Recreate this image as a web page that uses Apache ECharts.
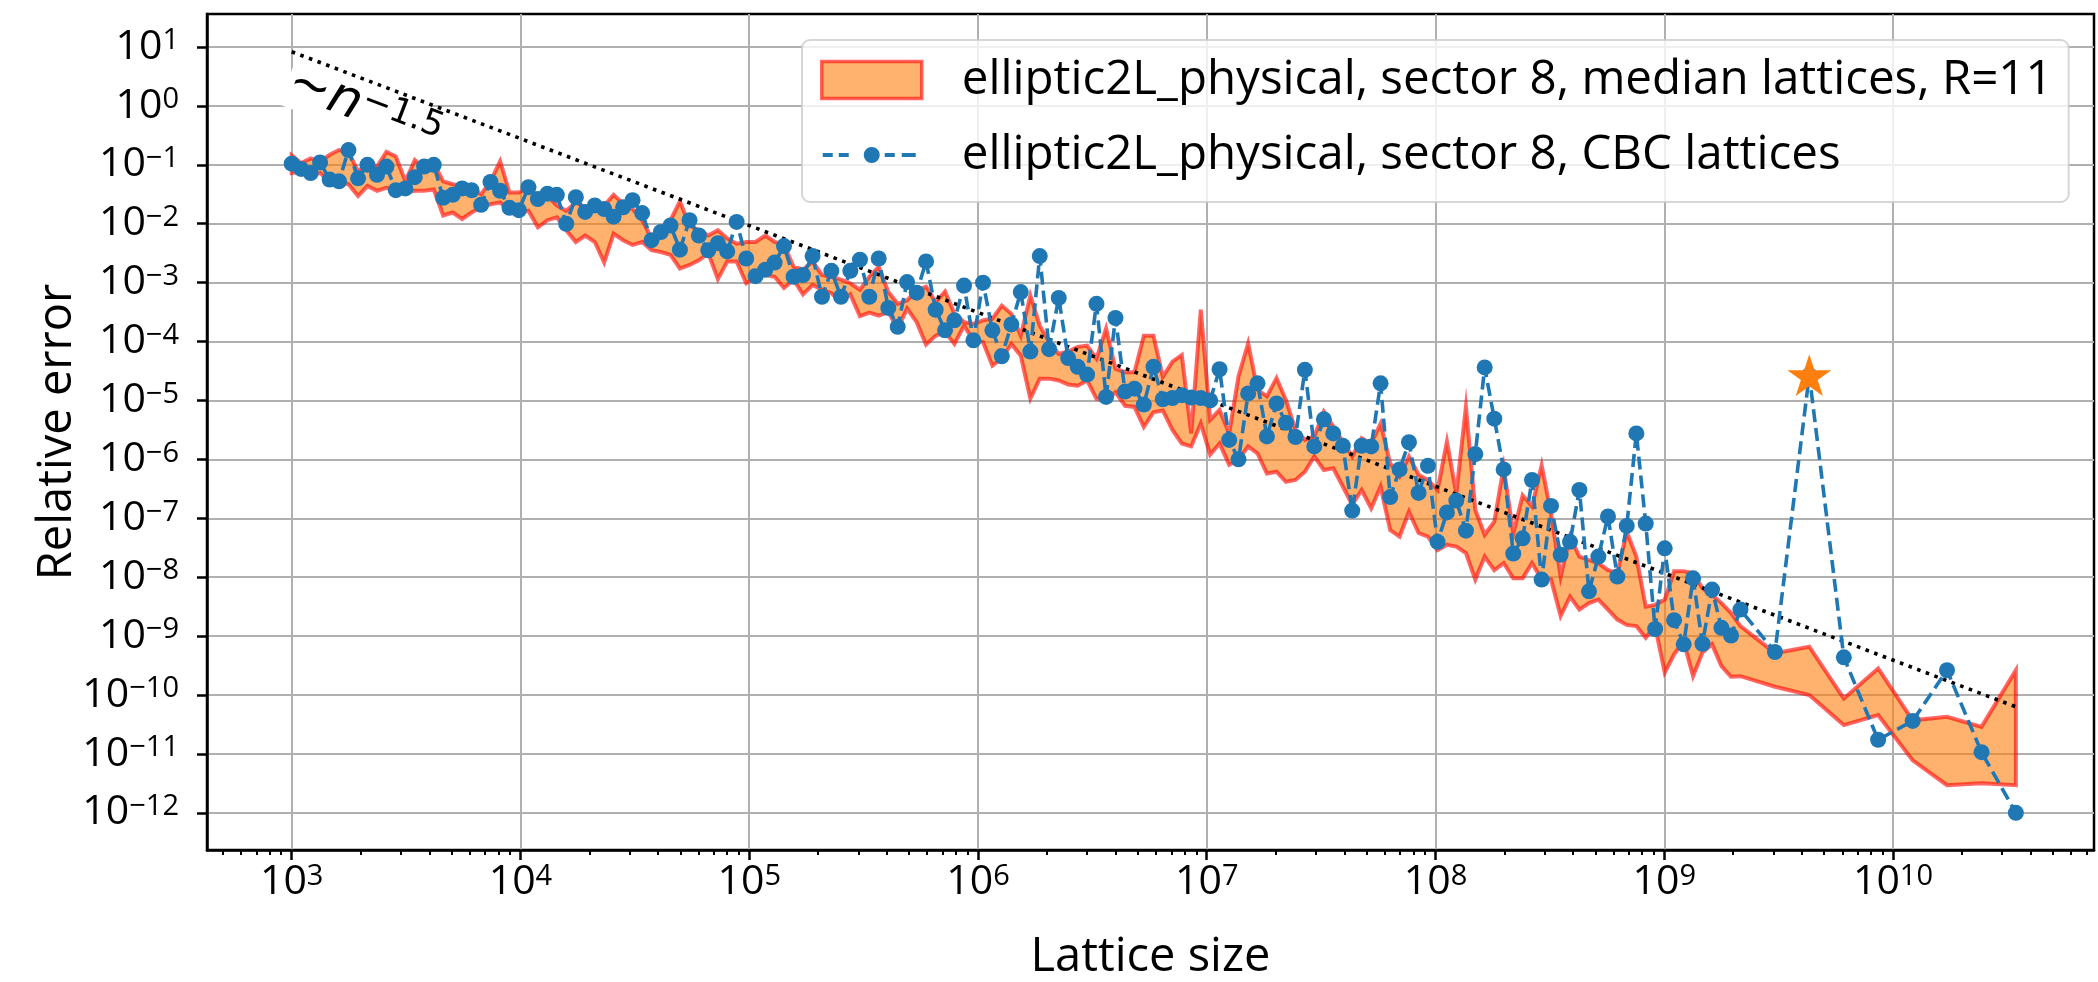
<!DOCTYPE html>
<html>
<head>
<meta charset="utf-8">
<script src="https://cdn.jsdelivr.net/npm/echarts@6/dist/echarts.min.js"></script>
<style>
html,body{margin:0;padding:0;background:#fff;}
#chart{width:2098px;height:982px;}
</style>
</head>
<body>
<div id="chart"></div>
<script>
/*----------data (log10 of lattice size / relative error)----------*/
var sizeExp=[
3.000,3.041,3.083,3.124,3.166,3.207,3.248,3.290,3.331,3.373,
3.414,3.455,3.497,3.538,3.579,3.621,3.662,3.704,3.745,3.786,
3.828,3.869,3.911,3.952,3.993,4.035,4.076,4.118,4.159,4.200,
4.242,4.283,4.325,4.366,4.407,4.449,4.490,4.532,4.573,4.614,
4.656,4.697,4.739,4.780,4.821,4.863,4.904,4.945,4.987,5.028,
5.070,5.111,5.152,5.194,5.235,5.277,5.318,5.359,5.401,5.442,
5.484,5.525,5.566,5.608,5.649,5.690,5.732,5.773,5.815,5.856,
5.897,5.939,5.980,6.022,6.063,6.104,6.146,6.187,6.229,6.270,
6.311,6.353,6.394,6.436,6.477,6.518,6.560,6.601,6.643,6.684,
6.725,6.767,6.808,6.850,6.891,6.932,6.974,7.015,7.056,7.098,
7.139,7.181,7.222,7.263,7.305,7.346,7.388,7.429,7.470,7.512,
7.553,7.595,7.636,7.677,7.719,7.760,7.802,7.843,7.884,7.926,
7.967,8.009,8.050,8.091,8.133,8.174,8.215,8.257,8.298,8.340,
8.381,8.422,8.464,8.505,8.547,8.588,8.629,8.671,8.712,8.754,
8.795,8.836,8.878,8.919,8.960,9.002,9.043,9.085,9.126,9.167,
9.209,9.250,9.292,9.333,
9.484,9.634,9.785,9.935,10.086,10.236,10.387,10.537];
var cbcExp=[
-0.98,-1.07,-1.14,-0.96,-1.25,-1.28,-0.75,-1.23,-1.00,-1.17,
-1.03,-1.43,-1.40,-1.21,-1.03,-1.00,-1.56,-1.51,-1.40,-1.43,
-1.68,-1.29,-1.44,-1.73,-1.77,-1.38,-1.58,-1.49,-1.51,-2.00,
-1.55,-1.80,-1.69,-1.75,-1.88,-1.72,-1.60,-1.82,-2.28,-2.14,
-2.03,-2.44,-1.94,-2.20,-2.45,-2.33,-2.47,-1.97,-2.59,-2.89,
-2.78,-2.66,-2.38,-2.90,-2.87,-2.55,-3.24,-2.80,-3.24,-2.80,
-2.61,-3.24,-2.59,-3.43,-3.75,-2.99,-3.17,-2.64,-3.46,-3.81,
-3.64,-3.05,-3.98,-3.00,-3.81,-4.25,-3.71,-3.16,-4.17,-2.55,
-4.13,-3.26,-4.28,-4.43,-4.56,-3.36,-4.94,-3.60,-4.85,-4.80,
-5.07,-4.43,-4.98,-4.96,-4.91,-4.95,-4.96,-5.00,-4.47,-5.67,
-6.00,-4.88,-4.71,-5.61,-5.05,-5.38,-5.62,-4.48,-5.78,-5.32,
-5.56,-5.77,-6.87,-5.77,-5.78,-4.71,-6.64,-6.17,-5.71,-6.57,
-6.11,-7.40,-6.90,-6.70,-7.21,-5.91,-4.44,-5.31,-6.17,-7.60,
-7.34,-6.35,-8.04,-6.79,-7.62,-7.40,-6.52,-8.24,-7.65,-6.97,
-7.99,-7.13,-5.56,-7.09,-8.88,-7.51,-8.73,-9.14,-8.02,-9.13,
-8.21,-8.86,-8.99,-8.55,
-9.27,-4.57,-9.36,-10.76,-10.44,-9.58,-10.97,-12.00];
var bandHiExp=[
-0.84,-0.97,-0.89,-0.95,-0.83,-0.75,-0.78,-1.11,-0.97,-1.03,
-0.78,-0.86,-1.28,-0.92,-1.06,-0.97,-1.28,-1.33,-1.36,-1.42,
-1.50,-1.28,-0.94,-1.47,-1.47,-1.39,-1.53,-1.53,-1.69,-1.78,
-1.64,-1.72,-1.69,-1.69,-1.51,-1.66,-1.75,-1.94,-2.25,-2.11,
-1.94,-1.62,-2.03,-2.11,-2.20,-2.11,-2.25,-2.34,-2.31,-2.31,
-2.20,-2.31,-2.36,-2.73,-2.78,-2.64,-2.87,-2.90,-2.95,-3.01,
-3.12,-2.90,-2.73,-3.16,-3.36,-3.30,-3.13,-3.07,-3.33,-3.15,
-3.53,-3.67,-3.70,-3.64,-3.61,-3.39,-3.53,-3.90,-3.22,-3.73,
-4.01,-4.21,-4.17,-4.09,-4.07,-4.29,-3.78,-4.46,-4.52,-4.52,
-3.90,-3.90,-4.60,-4.34,-4.23,-5.56,-3.46,-5.33,-5.16,-5.56,
-4.59,-4.03,-4.82,-4.93,-4.62,-4.99,-5.50,-5.67,-5.61,-5.19,
-5.44,-5.70,-5.95,-5.64,-5.73,-5.39,-6.07,-6.29,-5.95,-6.26,
-6.35,-6.52,-5.70,-6.58,-5.11,-6.86,-7.28,-7.06,-6.13,-7.26,
-6.61,-6.80,-6.10,-6.92,-7.99,-7.31,-7.65,-7.71,-7.76,-7.88,
-7.93,-7.23,-7.65,-8.50,-8.47,-8.38,-7.90,-7.90,-7.93,-8.19,
-8.30,-8.44,-8.61,-8.83,
-9.29,-9.18,-10.06,-9.55,-10.43,-10.37,-10.54,-9.58];
var bandLoExp=[
-1.14,-1.11,-1.17,-1.14,-1.28,-1.31,-1.33,-1.53,-1.36,-1.44,
-1.39,-1.44,-1.47,-1.44,-1.44,-1.42,-1.86,-1.81,-1.92,-1.81,
-1.72,-1.67,-1.64,-1.78,-1.81,-1.78,-2.06,-1.94,-1.89,-2.11,
-2.31,-2.20,-2.31,-2.66,-2.17,-2.28,-2.36,-2.31,-2.45,-2.48,
-2.53,-2.76,-2.70,-2.62,-2.50,-2.94,-2.64,-2.64,-3.01,-2.90,
-2.87,-2.90,-3.09,-2.95,-3.20,-3.04,-3.12,-3.18,-3.32,-3.20,
-3.57,-3.51,-3.56,-3.50,-3.78,-3.44,-3.67,-4.05,-3.90,-3.84,
-4.04,-3.73,-3.98,-4.01,-4.41,-4.29,-4.04,-4.24,-4.97,-4.63,
-4.63,-4.66,-4.73,-4.75,-4.66,-4.97,-5.00,-4.86,-5.09,-5.11,
-5.45,-5.20,-5.17,-5.50,-5.73,-5.78,-5.39,-5.92,-5.73,-6.09,
-6.01,-5.78,-5.90,-6.24,-6.21,-6.38,-6.35,-6.21,-5.95,-6.18,
-6.15,-6.46,-6.77,-6.52,-6.83,-6.46,-7.20,-7.31,-6.89,-7.25,
-7.31,-7.54,-7.45,-7.48,-7.59,-8.04,-7.65,-7.88,-7.76,-8.02,
-8.02,-7.76,-8.04,-8.04,-8.66,-8.33,-8.55,-8.44,-8.38,-8.55,
-8.72,-8.81,-8.83,-9.03,-8.83,-9.62,-9.31,-9.09,-9.68,-9.28,
-9.14,-9.51,-9.69,-9.68,
-9.86,-10.00,-10.51,-10.34,-11.11,-11.53,-11.50,-11.53];
var starPoint=[9.634,-4.57];	//highlighted CBC lattice
var trendX=[3.0,10.537];	//~n^-1.5 guide
var trendY=[0.92,-10.20];
var xDecades=[3,4,5,6,7,8,9,10];
var yDecades=[-12,-11,-10,-9,-8,-7,-6,-5,-4,-3,-2,-1,0,1];
var bandName="elliptic2L_physical, sector 8, median lattices, R=11";
var cbcName="elliptic2L_physical, sector 8, CBC lattices";
/*----------ready----------*/
$chart();
function $chart(){
	var FONT="'Open Sans','DejaVu Sans',sans-serif";
	var xMin=2.6297,xMax=10.8786,yMin=-12.631,yMax=1.560;
	var xMinor=[];	//log minor ticks 2..9 x 10^k
	for(var k=2;k<=10;k++){
		for(var m=2;m<=9;m++){
			var v=k+Math.log10(m);
			if(v>xMin&&v<xMax) xMinor.push(v);
		}
	}
	function powLabel(v){
		var e=Math.round(v);
		return "{b|10}{s|"+(e<0?"\u2212"+(-e):e)+"}";
	}
	var labelRich={
		b:{fontFamily:FONT,fontSize:41,color:"#000"},
		s:{fontFamily:FONT,fontSize:29,color:"#000",verticalAlign:"top"}
	};
	var chart=echarts.init(document.getElementById("chart"),null,{renderer:"canvas"});
	var option={
		animation:false,
		backgroundColor:"#fff",
		grid:{
			left:207,right:4,top:14,bottom:132,
			show:true,borderColor:"#000",borderWidth:2.5,
			backgroundColor:"transparent",
			outerBoundsMode:"none"
		},
		legend:{
			orient:"vertical",
			left:802,top:40,
			padding:[15,16,22,18],
			itemWidth:100,itemHeight:37,itemGap:25,
			backgroundColor:"rgba(255,255,255,0.8)",
			borderColor:"rgba(204,204,204,0.8)",
			borderWidth:2,borderRadius:8,
			selectedMode:false,
			textStyle:{fontFamily:FONT,fontSize:47.5,color:"#000",lineHeight:50,padding:[0,0,0,35]},
			data:[
				{name:bandName,icon:"rect",itemStyle:{color:"rgba(255,127,14,0.6)",borderColor:"rgba(255,0,0,0.6)",borderWidth:3.5}},
				{name:cbcName,
				 icon:"path://M0,0h0.01v0.01h-0.01zM99.99,36.99h0.01v0.01h-0.01zM1,16.6h10v3.8h-10zM17,16.6h10v3.8h-10zM63,16.6h10v3.8h-10zM80,16.6h14v3.8h-14zM42,18.5a8,8 0 1,0 16,0a8,8 0 1,0 -16,0z",
				 itemStyle:{color:"#1f77b4",borderWidth:0}}
			]
		},
		xAxis:[
			{
				type:"value",min:xMin,max:xMax,
				name:"Lattice size",nameLocation:"middle",nameGap:84,nameMoveOverlap:false,
				nameTextStyle:{fontFamily:FONT,fontSize:47,color:"#000"},
				axisLine:{show:true,onZero:false,lineStyle:{color:"#000",width:2.5}},
				axisTick:{show:true,customValues:xDecades,length:10,lineStyle:{color:"#000",width:2.5}},
				axisLabel:{customValues:xDecades,formatter:powLabel,rich:labelRich,margin:12},
				splitLine:{show:true,lineStyle:{color:"#b0b0b0",width:2}}
			},
			{
				type:"value",min:xMin,max:xMax,position:"bottom",
				axisLine:{show:false,onZero:false},
				axisTick:{show:true,customValues:xMinor,length:5,lineStyle:{color:"#000",width:2}},
				axisLabel:{show:false},
				splitLine:{show:false}
			}
		],
		yAxis:[
			{
				type:"value",min:yMin,max:yMax,
				name:"Relative error",nameLocation:"middle",nameGap:126,nameMoveOverlap:false,
				nameTextStyle:{fontFamily:FONT,fontSize:47,color:"#000"},
				axisLine:{show:true,onZero:false,lineStyle:{color:"#000",width:2.5}},
				axisTick:{show:true,customValues:yDecades,length:10,lineStyle:{color:"#000",width:2.5}},
				axisLabel:{customValues:yDecades,formatter:powLabel,rich:labelRich,margin:28},
				splitLine:{show:true,lineStyle:{color:"#b0b0b0",width:2}}
			}
		],
		graphic:[
			{
				type:"text",x:288,y:80,rotation:-0.363,z:1,
				style:{
					text:"{t|\u223C}{n|n}{s|\u22121.5}",
					align:"left",verticalAlign:"middle",
					backgroundColor:"#fff",padding:[0,2,0,2],
					rich:{
						t:{fontFamily:"DejaVu Sans",fontSize:50,fill:"#000"},
						n:{fontFamily:"DejaVu Sans",fontStyle:"italic",fontSize:52,fill:"#000"},
						s:{fontFamily:"DejaVu Sans",fontSize:35,fill:"#000",verticalAlign:"top"}
					}
				}
			}
		],
		series:[
			{
				type:"custom",name:bandName,z:2,
				xAxisIndex:0,yAxisIndex:0,
				itemStyle:{color:"rgba(255,127,14,0.6)"},
				data:sizeExp.map(function(x,i){return [x,bandHiExp[i],bandLoExp[i]];}),
				encode:{x:0,y:[1,2]},
				renderItem:function(params,api){
					if(params.dataIndex!==0) return null;
					var pts=[],i;
					for(i=0;i<sizeExp.length;i++) pts.push(api.coord([sizeExp[i],bandHiExp[i]]));
					for(i=sizeExp.length-1;i>=0;i--) pts.push(api.coord([sizeExp[i],bandLoExp[i]]));
					return {
						type:"polygon",
						shape:{points:pts},
						style:{fill:"rgba(255,127,14,0.6)",stroke:"rgba(255,0,0,0.6)",lineWidth:4,lineJoin:"miter"}
					};
				}
			},
			{
				type:"line",name:"trend",z:3,
				xAxisIndex:0,yAxisIndex:0,
				data:[[trendX[0],trendY[0]],[trendX[1],trendY[1]]],
				symbol:"none",
				lineStyle:{color:"#000",width:3.6,type:[3.6,5.6],cap:"butt"}
			},
			{
				type:"line",name:cbcName,z:4,
				xAxisIndex:0,yAxisIndex:0,
				data:sizeExp.map(function(x,i){return [x,cbcExp[i]];}),
				symbol:"circle",symbolSize:16,showAllSymbol:true,
				itemStyle:{color:"#1f77b4",borderWidth:0,opacity:1},
				lineStyle:{color:"#1f77b4",width:3.6,type:[13,6]}
			},
			{
				type:"scatter",name:"star",z:6,
				xAxisIndex:0,yAxisIndex:0,
				data:[starPoint],
				symbol:"path://M50,0L61.23,34.55L97.55,34.55L68.16,55.9L79.39,90.45L50,69.1L20.61,90.45L31.84,55.9L2.45,34.55L38.77,34.55Z",
				symbolSize:44,symbolKeepAspect:true,
				itemStyle:{color:"#ff7f0e",opacity:1}
			}
		]
	};
	chart.setOption(option);
}
</script>
</body>
</html>
